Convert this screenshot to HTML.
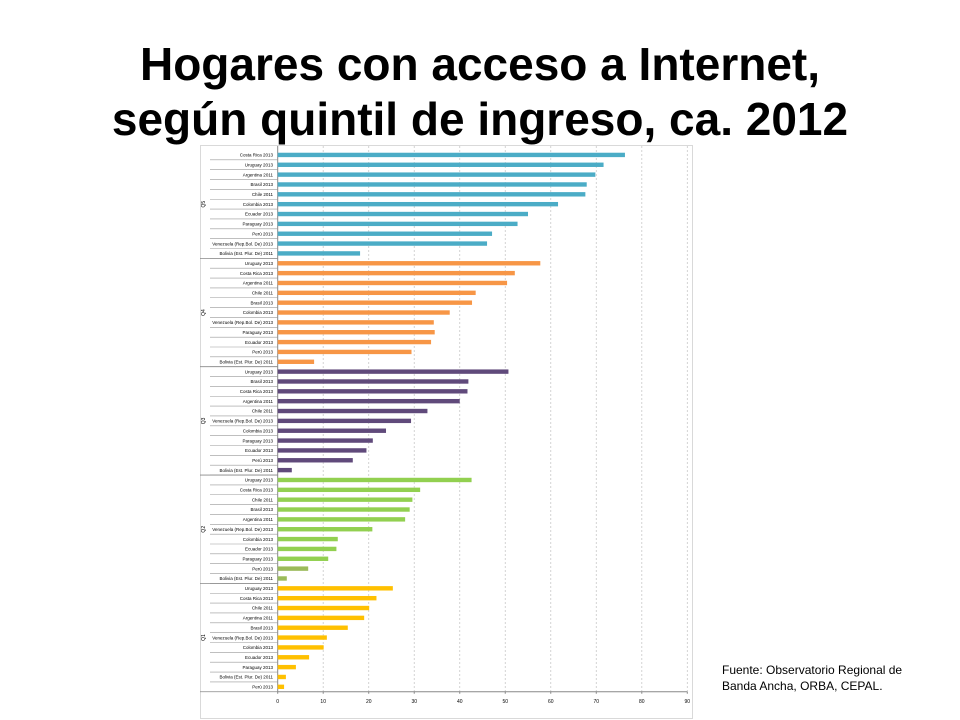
<!DOCTYPE html>
<html><head><meta charset="utf-8">
<style>
body{margin:0;width:960px;height:720px;background:#fff;overflow:hidden;font-family:"Liberation Sans",sans-serif;position:relative}
#title{position:absolute;left:0;top:37px;width:960px;text-align:center;font-weight:bold;font-size:46px;line-height:55px;color:#000;white-space:nowrap}
#src{position:absolute;left:722px;top:662px;font-size:12px;line-height:16px;color:#000}
svg{position:absolute;left:0;top:0}
</style></head><body>
<div id="title">Hogares con acceso a Internet,<br>según quintil de ingreso, ca. 2012</div>
<div id="src">Fuente: Observatorio Regional de<br>Banda Ancha, ORBA, CEPAL.</div>
<svg id="chart" width="960" height="720"></svg>
<script>
const groups=["Q5","Q4","Q3","Q2","Q1"];
const colors=["#4bacc6","#f79646","#604a7b","#92d050","#ffc000"];
const catsQ5=["Costa Rica 2013","Uruguay 2013","Argentina 2011","Brasil 2013","Chile 2011","Colombia 2013","Ecuador 2013","Paraguay 2013","Perú 2013","Venezuela (Rep.Bol. De) 2013","Bolivia (Est. Plur. De) 2011"];
const valsQ5=[76.3,71.6,69.8,67.9,67.6,61.6,55.0,52.7,47.1,46.0,18.1];
const catsQ4=["Uruguay 2013","Costa Rica 2013","Argentina 2011","Chile 2011","Brasil 2013","Colombia 2013","Venezuela (Rep.Bol. De) 2013","Paraguay 2013","Ecuador 2013","Perú 2013","Bolivia (Est. Plur. De) 2011"];
const valsQ4=[57.7,52.1,50.4,43.5,42.7,37.8,34.3,34.5,33.7,29.4,8.0];
const catsQ3=["Uruguay 2013","Brasil 2013","Costa Rica 2013","Argentina 2011","Chile 2011","Venezuela (Rep.Bol. De) 2013","Colombia 2013","Paraguay 2013","Ecuador 2013","Perú 2013","Bolivia (Est. Plur. De) 2011"];
const valsQ3=[50.7,41.9,41.7,40.0,32.9,29.3,23.8,20.9,19.5,16.5,3.1];
const catsQ2=["Uruguay 2013","Costa Rica 2013","Chile 2011","Brasil 2013","Argentina 2011","Venezuela (Rep.Bol. De) 2013","Colombia 2013","Ecuador 2013","Paraguay 2013","Perú 2013","Bolivia (Est. Plur. De) 2011"];
const valsQ2=[42.6,31.3,29.6,29.0,28.0,20.8,13.2,12.9,11.1,6.7,2.0];
const catsQ1=["Uruguay 2013","Costa Rica 2013","Chile 2011","Argentina 2011","Brasil 2013","Venezuela (Rep.Bol. De) 2013","Colombia 2013","Ecuador 2013","Paraguay 2013","Bolivia (Est. Plur. De) 2011","Perú 2013"];
const valsQ1=[25.3,21.7,20.1,19.0,15.4,10.8,10.1,6.9,4.0,1.8,1.4];
const ticks=[0,10,20,30,40,50,60,70,80,90];

const allCats=[catsQ5,catsQ4,catsQ3,catsQ2,catsQ1];
const allVals=[valsQ5,valsQ4,valsQ3,valsQ2,valsQ1];
const NS="http://www.w3.org/2000/svg";
const svg=document.getElementById('chart');
const x0=277.7,x1=687.3,vmax=90,top0=150,pitch=9.85;
const X=v=>x0+(v/vmax)*(x1-x0);
const total=allCats.reduce((a,c)=>a+c.length,0);
const Y=i=>top0+i*pitch;
const yEnd=Y(total);
function mk(t,a){const e=document.createElementNS(NS,t);for(const k in a)e.setAttribute(k,a[k]);svg.appendChild(e);return e;}
let fr=mk('rect',{x:200.5,y:145.5,width:492,height:573,fill:'none',stroke:'#d9d9d9'});


ticks.forEach(t=>{
  if(t>0){let g=mk('line',{x1:X(t),x2:X(t),y1:146,y2:yEnd,stroke:'#c8c8c8','stroke-dasharray':'2,2','stroke-width':0.8});
  
  }
  let tk=mk('text',{x:X(t),y:yEnd+11,'font-size':5,'text-anchor':'middle',fill:'#000'});
  tk.textContent=t;
  
  
  let tm=mk('line',{x1:X(t),x2:X(t),y1:yEnd,y2:yEnd+2,stroke:'#888'});
  
  
});
let ax=mk('line',{x1:x0,x2:X(90),y1:yEnd,y2:yEnd,stroke:'#888'});


let ay=mk('line',{x1:x0,x2:x0,y1:146,y2:yEnd,stroke:'#888'});


let idx=0;
allCats.forEach((cats,gi)=>{
  const gStart=idx;
  cats.forEach((c,ci)=>{
    const v=allVals[gi][ci];
    const yc=Y(idx)+pitch/2;
    let col=colors[gi];
    if(gi===3&&ci>=9)col="#9bbb59";
    let b=mk('rect',{x:x0,y:yc-2.2,width:X(v)-x0,height:4.4,fill:col});
    
    
    let l=mk('text',{x:273,y:yc+1.7,'font-size':4.5,'text-anchor':'end',fill:'#000'});
    l.textContent=c;
    
    
    let s=mk('line',{x1:210,x2:x0,y1:Y(idx+1),y2:Y(idx+1),stroke:'#999','stroke-width':0.6});
    
    
    idx++;
  });
  let gs=mk('line',{x1:200,x2:x0,y1:Y(idx),y2:Y(idx),stroke:'#888','stroke-width':0.8});
  
  
  const gy=(Y(gStart)+Y(idx))/2;
  let gl=mk('text',{x:205,y:gy,'font-size':5,'text-anchor':'middle',fill:'#000',transform:`rotate(-90 205 ${gy})`});
  gl.textContent=groups[gi];
  
  
});
</script>
</body></html>
